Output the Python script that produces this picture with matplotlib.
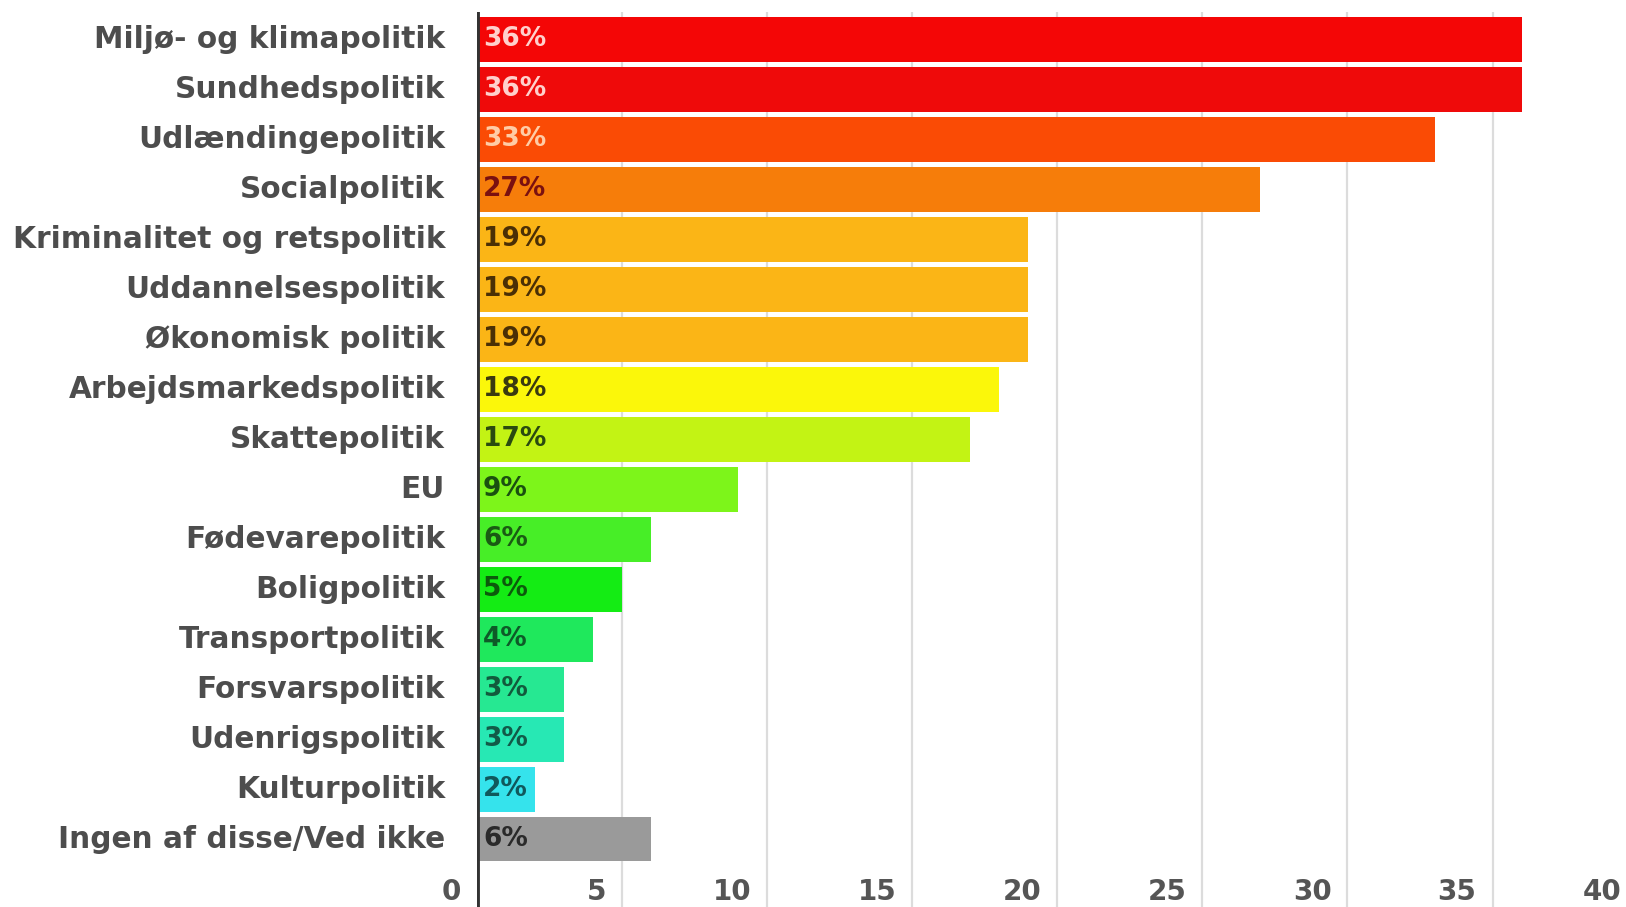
#!/usr/bin/env python3
"""Horizontal bar chart: which policy areas matter most (share in %)."""

import matplotlib

matplotlib.use("Agg")
import matplotlib.pyplot as plt
from matplotlib.transforms import offset_copy

categories = [
    "Miljø- og klimapolitik",
    "Sundhedspolitik",
    "Udlændingepolitik",
    "Socialpolitik",
    "Kriminalitet og retspolitik",
    "Uddannelsespolitik",
    "Økonomisk politik",
    "Arbejdsmarkedspolitik",
    "Skattepolitik",
    "EU",
    "Fødevarepolitik",
    "Boligpolitik",
    "Transportpolitik",
    "Forsvarspolitik",
    "Udenrigspolitik",
    "Kulturpolitik",
    "Ingen af disse/Ved ikke",
]
values = [36, 36, 33, 27, 19, 19, 19, 18, 17, 9, 6, 5, 4, 3, 3, 2, 6]
value_labels = [f"{v}%" for v in values]

bar_colors = [
    "#f40606", "#ef0a0a", "#fa4b05", "#f67d0a", "#fbb516", "#fbb516", "#fbb516",
    "#fbf70a", "#c3f314", "#7df51a", "#47ee27", "#14ec14", "#1fe85c", "#26e892",
    "#27e8b4", "#35e3ec", "#9a9a9a",
]
label_colors = [
    "#ffd0cc", "#ffd0cc", "#ffcca6", "#7a1010", "#4a2f05", "#4a2f05", "#4a2f05",
    "#3a3a10", "#2a4a10", "#1a5010", "#1a5a14", "#0c5a0c", "#0e5a28", "#125a3c",
    "#125a48", "#10585c", "#2a2a2a",
]
xticks = [0, 5, 10, 15, 20, 25, 30, 35, 40]

W, H, DPI = 1626, 907, 100
fig = plt.figure(figsize=(W / DPI, H / DPI), dpi=DPI)
left_px, top_px = 477, 12
ax = fig.add_axes([left_px / W, 0, 1 - left_px / W, 1 - top_px / H])

rows = list(range(len(categories)))
ax.barh(rows, values, height=0.9, color=bar_colors, zorder=2)
ax.set_xlim(0, 39.6)
ax.set_ylim(17.36, -0.54)

for x in xticks[1:]:
    ax.axvline(x, color="#dcdcdc", lw=1.6, zorder=1)
ax.axvline(0, color="#333333", lw=3.5, zorder=3)

font = dict(family="DejaVu Sans", weight="bold")
for r, lab, col in zip(rows, value_labels, label_colors):
    ax.annotate(lab, (0, r), xytext=(6, 0), textcoords="offset pixels",
                ha="left", va="center", fontsize=19, color=col, zorder=4, **font)

# tick numbers sit inside the plot, right-aligned a little left of each grid line
tick_tr = offset_copy(ax.transData, fig=fig, x=-16, y=0, units="dots")
for t in xticks:
    ax.text(t, 17.06, str(t), transform=tick_tr, ha="right", va="center",
            fontsize=20, color="#555555", clip_on=False, **font)

for r, name in zip(rows, categories):
    ax.annotate(name, (0, r), xytext=(-32, 0), textcoords="offset pixels",
                ha="right", va="center", fontsize=21.3, color="#4d4d4d",
                annotation_clip=False, **font)

ax.set_xticks([])
ax.set_yticks([])
for s in ax.spines.values():
    s.set_visible(False)

fig.savefig("out.png", dpi=DPI)
